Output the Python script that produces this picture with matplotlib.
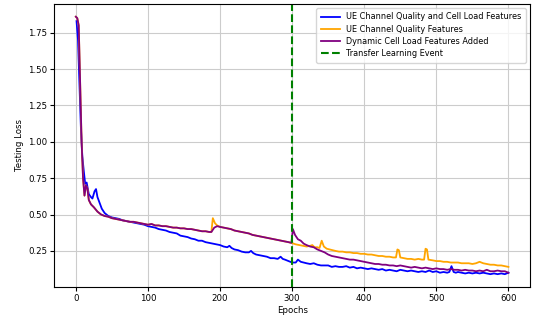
import matplotlib
matplotlib.use('Agg')
import matplotlib.pyplot as plt

# UE channel quality + cell load features
blue_x = [1, 3, 5, 7, 9, 11, 13, 15, 18, 21, 23, 26, 28, 30, 33, 36, 40, 45, 50, 55,
          60, 65, 70, 75, 80, 85, 90, 95, 100, 105, 110, 115, 120, 125, 130, 135, 140, 145, 150, 155,
          160, 165, 170, 175, 180, 185, 190, 195, 200, 205, 210, 213, 216, 220, 225, 230, 235, 240, 243, 246,
          250, 255, 260, 265, 270, 275, 280, 284, 287, 290, 295, 300, 305, 308, 312, 316, 320, 325, 330, 335,
          340, 345, 350, 355, 360, 365, 370, 375, 380, 385, 390, 395, 400, 405, 410, 415, 420, 425, 430, 435,
          440, 445, 450, 455, 460, 465, 470, 475, 480, 485, 490, 495, 500, 505, 510, 515, 518, 521, 524, 527,
          530, 535, 540, 545, 550, 555, 560, 565, 570, 575, 580, 585, 590, 595, 600]
blue_y = [1.83, 1.70, 1.40, 1.10, 0.90, 0.80, 0.71, 0.72, 0.64, 0.62, 0.61, 0.66, 0.675, 0.62, 0.58, 0.54, 0.51, 0.49, 0.48, 0.475,
          0.47, 0.46, 0.455, 0.45, 0.445, 0.44, 0.435, 0.43, 0.42, 0.415, 0.41, 0.40, 0.395, 0.39, 0.38, 0.375, 0.37, 0.355, 0.35, 0.345,
          0.335, 0.33, 0.32, 0.32, 0.31, 0.305, 0.30, 0.295, 0.29, 0.28, 0.275, 0.285, 0.27, 0.26, 0.255, 0.245, 0.24, 0.24, 0.25, 0.235,
          0.225, 0.22, 0.215, 0.21, 0.20, 0.20, 0.195, 0.21, 0.195, 0.19, 0.18, 0.17, 0.17, 0.19, 0.175, 0.17, 0.165, 0.16, 0.165, 0.155,
          0.15, 0.15, 0.15, 0.14, 0.145, 0.14, 0.14, 0.145, 0.135, 0.14, 0.13, 0.135, 0.13, 0.125, 0.13, 0.125, 0.12, 0.125, 0.115, 0.12,
          0.115, 0.11, 0.12, 0.115, 0.11, 0.115, 0.11, 0.105, 0.11, 0.105, 0.115, 0.105, 0.11, 0.10, 0.105, 0.10, 0.105, 0.145, 0.105, 0.10,
          0.105, 0.10, 0.095, 0.10, 0.095, 0.10, 0.095, 0.10, 0.095, 0.09, 0.095, 0.09, 0.095, 0.09, 0.10]

# UE channel quality features only
orange_x = [0, 2, 4, 6, 8, 10, 12, 14, 16, 18, 21, 25, 30, 35, 40, 45, 50, 55, 60, 65,
            70, 75, 80, 85, 90, 95, 100, 105, 110, 115, 120, 125, 130, 135, 140, 145, 150, 155, 160, 165,
            170, 175, 180, 185, 188, 190, 193, 196, 200, 205, 210, 215, 220, 225, 230, 235, 240, 245, 250, 255,
            260, 265, 270, 275, 280, 285, 290, 295, 299, 305, 310, 315, 320, 325, 328, 331, 335, 338, 341, 344,
            348, 352, 356, 360, 365, 370, 375, 380, 385, 390, 395, 400, 405, 410, 415, 420, 425, 430, 435, 440,
            444, 446, 448, 450, 455, 460, 465, 470, 475, 480, 483, 485, 487, 489, 495, 500, 505, 510, 515, 520,
            525, 530, 535, 540, 545, 550, 555, 560, 565, 570, 575, 580, 585, 590, 595, 600]
orange_y = [1.86, 1.85, 1.80, 1.40, 1.00, 0.75, 0.63, 0.70, 0.68, 0.60, 0.57, 0.55, 0.52, 0.50, 0.49, 0.485, 0.475, 0.47, 0.465, 0.46,
            0.455, 0.45, 0.45, 0.445, 0.44, 0.435, 0.43, 0.435, 0.425, 0.425, 0.42, 0.42, 0.415, 0.41, 0.41, 0.405, 0.405, 0.40, 0.40, 0.395,
            0.39, 0.385, 0.385, 0.38, 0.38, 0.475, 0.44, 0.425, 0.415, 0.41, 0.405, 0.40, 0.39, 0.385, 0.38, 0.375, 0.37, 0.36, 0.355, 0.35,
            0.345, 0.34, 0.335, 0.33, 0.325, 0.32, 0.315, 0.31, 0.305, 0.295, 0.29, 0.285, 0.28, 0.285, 0.29, 0.275, 0.275, 0.27, 0.32, 0.28,
            0.265, 0.26, 0.255, 0.25, 0.245, 0.245, 0.24, 0.24, 0.235, 0.235, 0.23, 0.23, 0.225, 0.225, 0.22, 0.215, 0.215, 0.21, 0.21, 0.205,
            0.205, 0.26, 0.255, 0.205, 0.20, 0.195, 0.195, 0.19, 0.195, 0.19, 0.19, 0.265, 0.26, 0.19, 0.185, 0.18, 0.18, 0.175, 0.175, 0.17,
            0.17, 0.17, 0.165, 0.165, 0.165, 0.16, 0.165, 0.175, 0.165, 0.16, 0.155, 0.155, 0.15, 0.15, 0.145, 0.14]

# dynamic cell load features added (transfer at epoch 300)
purple_x = [0, 2, 4, 6, 8, 10, 12, 14, 16, 18, 21, 25, 30, 35, 40, 45, 50, 55, 60, 65,
            70, 75, 80, 85, 90, 95, 100, 105, 110, 115, 120, 125, 130, 135, 140, 145, 150, 155, 160, 165,
            170, 175, 180, 185, 188, 192, 196, 200, 205, 210, 215, 220, 225, 230, 235, 240, 245, 250, 255, 260,
            265, 270, 275, 280, 285, 290, 295, 299, 301, 304, 308, 312, 316, 320, 325, 330, 335, 340, 345, 350,
            355, 360, 365, 370, 375, 380, 385, 390, 395, 400, 405, 410, 415, 420, 425, 430, 435, 440, 445, 450,
            455, 460, 465, 470, 475, 480, 485, 490, 495, 500, 505, 510, 515, 520, 525, 530, 535, 540, 545, 550,
            555, 560, 565, 570, 575, 580, 585, 590, 595, 600]
purple_y = [1.86, 1.85, 1.80, 1.40, 1.00, 0.75, 0.63, 0.70, 0.68, 0.60, 0.57, 0.55, 0.52, 0.50, 0.49, 0.485, 0.475, 0.47, 0.465, 0.46,
            0.455, 0.45, 0.45, 0.445, 0.44, 0.435, 0.43, 0.435, 0.425, 0.425, 0.42, 0.42, 0.415, 0.41, 0.41, 0.405, 0.405, 0.40, 0.40, 0.395,
            0.39, 0.385, 0.385, 0.38, 0.38, 0.41, 0.42, 0.415, 0.41, 0.405, 0.40, 0.39, 0.385, 0.38, 0.375, 0.37, 0.36, 0.355, 0.35, 0.345,
            0.34, 0.335, 0.33, 0.325, 0.32, 0.315, 0.31, 0.305, 0.40, 0.36, 0.33, 0.32, 0.30, 0.29, 0.28, 0.275, 0.26, 0.25, 0.24, 0.225,
            0.215, 0.21, 0.205, 0.20, 0.195, 0.19, 0.19, 0.185, 0.18, 0.175, 0.17, 0.165, 0.16, 0.16, 0.155, 0.155, 0.15, 0.15, 0.145, 0.15,
            0.145, 0.14, 0.135, 0.14, 0.135, 0.13, 0.135, 0.13, 0.125, 0.13, 0.125, 0.125, 0.12, 0.125, 0.12, 0.12, 0.115, 0.12, 0.115, 0.115,
            0.11, 0.115, 0.11, 0.12, 0.11, 0.11, 0.115, 0.11, 0.11, 0.10]

transfer_epoch = 300

fig = plt.figure(figsize=(5.42, 3.2), dpi=100)
ax = fig.add_axes([0.1, 0.103, 0.878, 0.885])

ax.plot(blue_x, blue_y, color='blue', lw=1.3, label='UE Channel Quality and Cell Load Features')
ax.plot(orange_x, orange_y, color='orange', lw=1.3, label='UE Channel Quality Features')
ax.plot(purple_x, purple_y, color='purple', lw=1.3, label='Dynamic Cell Load Features Added')
ax.axvline(transfer_epoch, color='green', ls='--', lw=1.5, label='Transfer Learning Event')

ax.set_xlabel('Epochs', fontsize=6.2, labelpad=2)
ax.set_ylabel('Testing Loss', fontsize=6.2, labelpad=3)
ax.tick_params(labelsize=6.2, length=3, pad=2)
ax.set_yticks([0.25, 0.5, 0.75, 1.0, 1.25, 1.5, 1.75])
ax.grid(True, color='#cccccc', lw=0.8)
ax.legend(loc='upper right', fontsize=5.9, handlelength=2.3, borderpad=0.55, labelspacing=0.4)

fig.savefig('out.png', dpi=100)
